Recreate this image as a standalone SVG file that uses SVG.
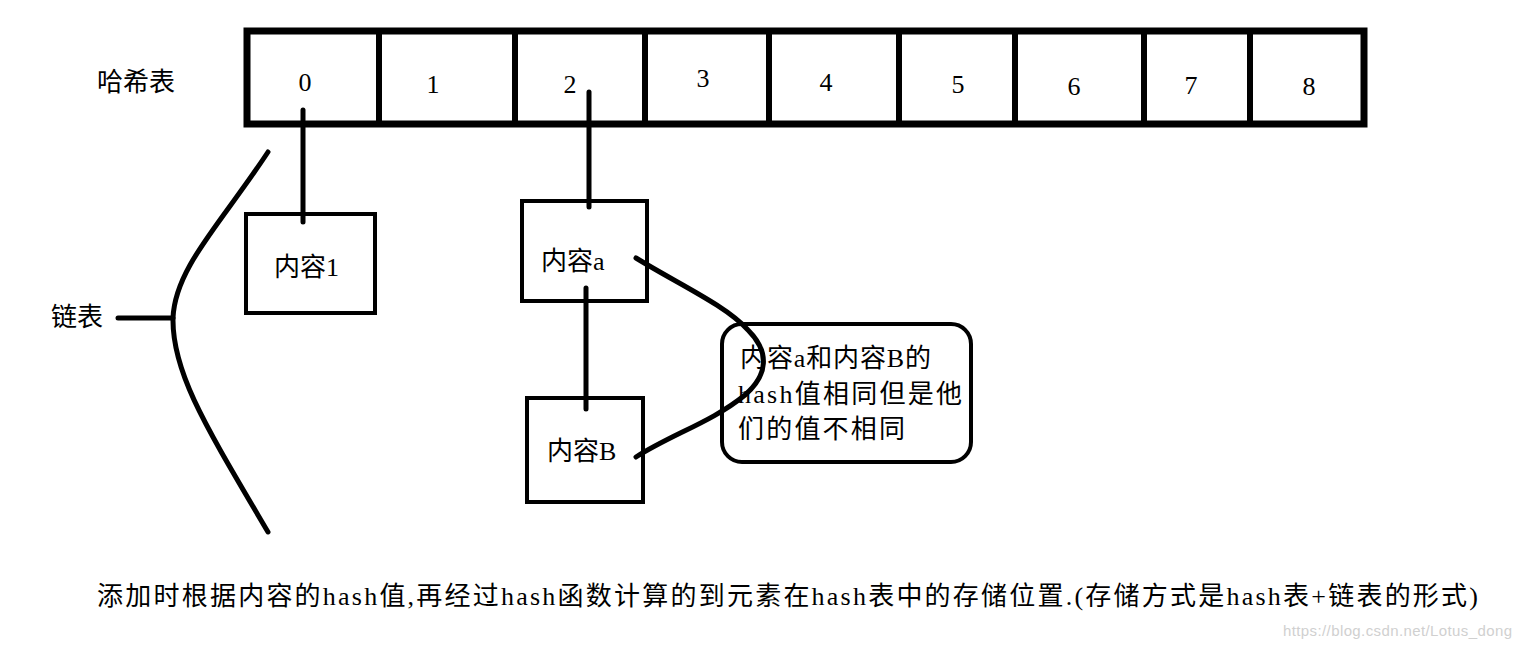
<svg xmlns="http://www.w3.org/2000/svg" width="1521" height="648" viewBox="0 0 1521 648">
<style>
.t{font-family:"Liberation Serif","Noto Sans CJK SC",serif;fill:#000;}
.n{font-size:26px;text-anchor:middle;}
.l{font-size:26px;}
.box{fill:none;stroke:#000;stroke-width:4;}
.ln{fill:none;stroke:#000;stroke-width:5;stroke-linecap:round;}
</style>
<rect width="1521" height="648" fill="#fff"/>
<g id="hashtable">
<rect x="247" y="31" width="1117" height="93" fill="none" stroke="#000" stroke-width="7"/>
<g stroke="#000" stroke-width="6">
<line x1="379" y1="31" x2="379" y2="124"/>
<line x1="515" y1="31" x2="515" y2="124"/>
<line x1="645" y1="31" x2="645" y2="124"/>
<line x1="769" y1="31" x2="769" y2="124"/>
<line x1="899" y1="31" x2="899" y2="124"/>
<line x1="1015" y1="31" x2="1015" y2="124"/>
<line x1="1144" y1="31" x2="1144" y2="124"/>
<line x1="1250" y1="31" x2="1250" y2="124"/>
</g>
<text class="t n" x="305" y="91">0</text>
<text class="t n" x="433" y="93">1</text>
<text class="t n" x="570" y="93">2</text>
<text class="t n" x="703" y="87">3</text>
<text class="t n" x="826" y="91">4</text>
<text class="t n" x="958" y="93">5</text>
<text class="t n" x="1074" y="95">6</text>
<text class="t n" x="1191" y="94">7</text>
<text class="t n" x="1309" y="95">8</text>
</g>
<g id="label-hashtable"><text class="t l" x="97" y="91">哈希表</text></g>
<g id="label-list"><text class="t l" x="51" y="326">链表</text></g>
<g id="node1"><rect class="box" x="246" y="214" width="129" height="99"/><text class="t l" x="274" y="276">内容1</text></g>
<g id="nodeA"><rect class="box" x="522" y="201" width="125" height="100"/><text class="t l" x="541" y="270">内容a</text></g>
<g id="nodeB"><rect class="box" x="527" y="398" width="116" height="104"/><text class="t l" x="547" y="460">内容B</text></g>
<g id="note">
<rect class="box" x="722" y="324" width="249" height="138" rx="20"/>
<text class="t l" x="740" y="367" textLength="191">内容a和内容B的</text>
<text class="t l" x="738" y="403" textLength="224">hash值相同但是他</text>
<text class="t l" x="738" y="438" textLength="167">们的值不相同</text>
</g>
<g id="connectors">
<line class="ln" x1="303" y1="110" x2="303" y2="222"/>
<line class="ln" x1="589" y1="92" x2="589" y2="207"/>
<line class="ln" x1="586" y1="288" x2="586" y2="409"/>
<line class="ln" x1="118" y1="318" x2="173" y2="318"/>
<path class="ln" d="M268,152 C220,225 175,268 173,318 C172,372 205,425 268,532"/>
<path class="ln" d="M636,258 C680,285 725,305 748,330 C770,352 768,375 745,395 C712,422 672,434 636,457"/>
</g>
<g id="caption"><text class="t l" x="97" y="605" font-size="26" textLength="1381">添加时根据内容的hash值,再经过hash函数计算的到元素在hash表中的存储位置.(存储方式是hash表+链表的形式)</text></g>
<g id="watermark"><text x="1283" y="636" font-family="Liberation Sans,sans-serif" font-size="15" fill="#d0d0d0" textLength="229">https://blog.csdn.net/Lotus_dong</text></g>
</svg>
